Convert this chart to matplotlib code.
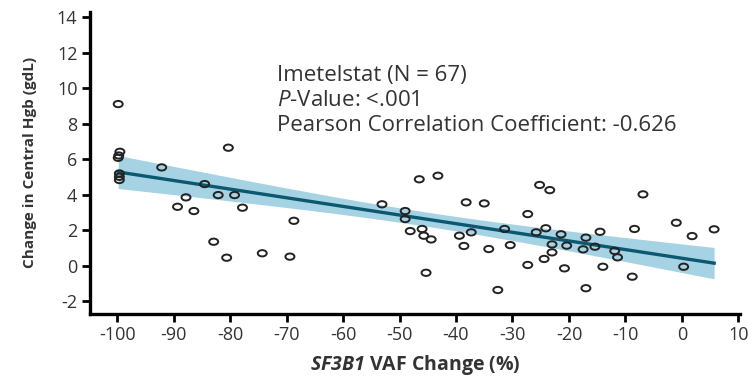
import matplotlib

matplotlib.use("Agg")
import matplotlib.pyplot as plt
import numpy as np
from matplotlib.path import Path

# --- data -----------------------------------------------------------------------------
VAF_CHANGE = [
    -99.8, -99.5, -99.8, -99.6, -99.6, -99.7, -99.6, -92.1, -80.3, -84.5, -82.1, -79.2,
    -87.8, -89.3, -86.4, -77.8, -82.9, -80.6, -74.3, -68.7, -69.4, -46.5, -53.1, -49.0,
    -49.0, -48.1, -46.0, -45.7, -45.3, -43.2, -44.4, -38.2, -35.0, -39.4, -37.3, -38.6,
    -34.2, -31.4, -30.4, -32.6, -27.3, -25.2, -23.4, -25.8, -24.1, -21.4, -23.0, -20.4,
    -23.0, -24.4, -27.3, -20.8, -17.0, -17.5, -17.0, -14.5, -15.4, -11.9, -11.4, -14.0,
    -8.8, -8.4, -6.9, -1.0, 1.8, 0.3, 5.7,
]
HGB_CHANGE = [
    9.1, 6.41, 6.07, 5.19, 4.82, 6.2, 5.0, 5.53, 6.64, 4.59, 3.97, 3.97,
    3.84, 3.31, 3.07, 3.26, 1.34, 0.44, 0.69, 2.52, 0.50, 4.86, 3.45, 3.07,
    2.62, 1.94, 2.06, 1.68, -0.41, 5.06, 1.47, 3.56, 3.50, 1.68, 1.87, 1.10,
    0.93, 2.06, 1.15, -1.38, 2.90, 4.54, 4.25, 1.87, 2.10, 1.76, 1.19, 1.12,
    0.74, 0.37, 0.03, -0.16, 1.57, 0.91, -1.28, 1.90, 1.06, 0.82, 0.46, -0.07,
    -0.63, 2.06, 4.01, 2.41, 1.66, -0.07, 2.04,
]
# regression line and its 95% band as drawn in the reference
FIT_SLOPE = -0.0487
FIT_INTERCEPT = 0.41
BAND_HALF_EDGE = 0.93   # band half-width at the ends of the fitted range
BAND_HALF_MID = 0.40    # band half-width near the mean of x

X_TICKS = [-100, -90, -80, -70, -60, -50, -40, -30, -20, -10, 0, 10]
Y_TICKS = [-2, 0, 2, 4, 6, 8, 10, 12, 14]
STATS = ["Imetelstat (N = 67)", r"$\mathit{P}$-Value: <.001",
         "Pearson Correlation Coefficient: -0.626"]

BAND = "#a6d3e3"
LINE = "#0b5870"
TXT = "#333333"

plt.rcParams["font.family"] = ["Open Sans", "DejaVu Sans"]
plt.rcParams["axes.unicode_minus"] = False
plt.rcParams["mathtext.fontset"] = "custom"
plt.rcParams["mathtext.it"] = "Open Sans:italic"
plt.rcParams["mathtext.rm"] = "Open Sans"
plt.rcParams["mathtext.bfit"] = "Open Sans:italic:bold"

x = np.array(VAF_CHANGE)
y = np.array(HGB_CHANGE)

xs = np.linspace(x.min(), x.max(), 200)
fit = FIT_SLOPE * xs + FIT_INTERCEPT
# hyperbolic confidence band shape, scaled to the widths
xm = x.mean()
d = (xs - xm) ** 2
k = (BAND_HALF_EDGE ** 2 - BAND_HALF_MID ** 2) / max((x.min() - xm) ** 2, (x.max() - xm) ** 2)
half = np.sqrt(BAND_HALF_MID ** 2 + k * d)

fig = plt.figure(figsize=(7.56, 3.81), dpi=100)
ax = fig.add_axes([0.119, 0.176, 0.860, 0.793])

ax.fill_between(xs, fit - half, fit + half, color=BAND, lw=0, zorder=1)
ax.plot(xs, fit, color=LINE, lw=2.4, zorder=2)

circ = Path.unit_circle()
ellipse = Path(circ.vertices * np.array([1.0, 0.7]), circ.codes)
ax.scatter(x, y, marker=ellipse, s=42, facecolors="none", edgecolors="#222222",
           linewidths=1.4, zorder=3)

for i, line in enumerate(STATS):
    ax.text(-71.6, 10.73 - i * 1.43, line, ha="left", va="center", fontsize=16,
            color=TXT)

ax.set_xlim(-104.8, 10.3)
ax.set_ylim(-2.73, 14.3)
ax.set_xticks(X_TICKS)
ax.set_yticks(Y_TICKS)
ax.tick_params(direction="out", length=6, width=2, labelsize=13, labelcolor=TXT,
               color="black", pad=3)
for sp in ("top", "right"):
    ax.spines[sp].set_visible(False)
for sp in ("left", "bottom"):
    ax.spines[sp].set_linewidth(2.4)

ax.set_xlabel(r"$\mathbfit{SF3B1}$ VAF Change (%)", fontsize=14, fontweight="bold",
              color=TXT, labelpad=6)
ax.set_ylabel("Change in Central Hgb (gdL)", fontsize=11, fontweight="bold",
              color=TXT, labelpad=14)

fig.savefig("out.png", dpi=100, facecolor="white")
